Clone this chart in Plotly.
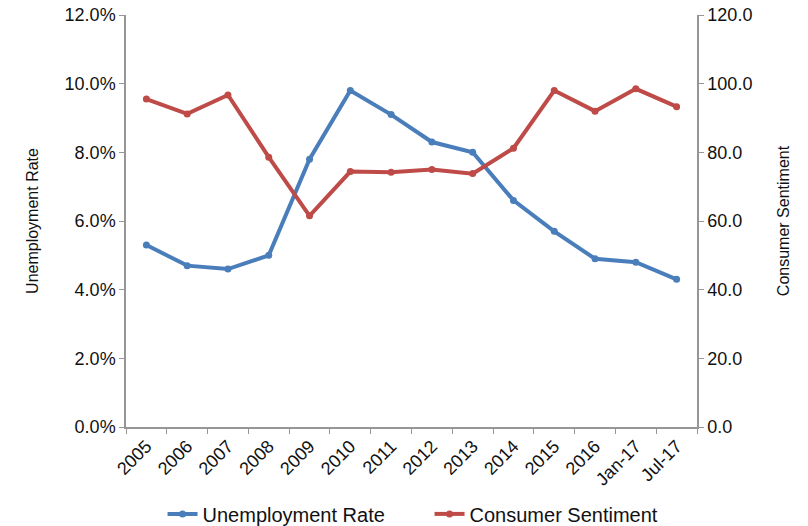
import plotly.graph_objects as go

categories = ["2005", "2006", "2007", "2008", "2009", "2010", "2011", "2012",
              "2013", "2014", "2015", "2016", "Jan-17", "Jul-17"]
unemployment = [5.3, 4.7, 4.6, 5.0, 7.8, 9.8, 9.1, 8.3, 8.0, 6.6, 5.7, 4.9, 4.8, 4.3]
sentiment = [95.5, 91.2, 96.7, 78.6, 61.5, 74.4, 74.2, 75.0, 73.8, 81.2, 98.0, 92.0, 98.5, 93.3]

BLUE = "#4A7EBB"
RED = "#BE4B48"
FONT = "Liberation Sans, Arial, sans-serif"

fig = go.Figure()
fig.add_trace(go.Scatter(x=categories, y=unemployment, name="Unemployment Rate",
                         mode="lines+markers", line=dict(color=BLUE, width=4),
                         marker=dict(size=7, color=BLUE), yaxis="y"))
fig.add_trace(go.Scatter(x=categories, y=sentiment, name="Consumer Sentiment",
                         mode="lines+markers", line=dict(color=RED, width=4),
                         marker=dict(size=7, color=RED), yaxis="y2"))

axis_common = dict(showgrid=False, zeroline=False, showline=True, linecolor="#969696",
                   linewidth=1.5, ticks="outside", ticklen=5, tickcolor="#969696",
                   automargin=False,
                   tickfont=dict(size=18, color="#111111", family=FONT))

fig.update_layout(
    width=808, height=526,
    margin=dict(l=126, r=111, t=15, b=99),
    paper_bgcolor="white", plot_bgcolor="white",
    font=dict(family=FONT, color="#111111"),
    xaxis=dict(type="category", range=[-0.5, 13.5], tickangle=-45, tickson="boundaries",
               **axis_common),
    yaxis=dict(range=[0, 12], dtick=2, tickformat=".1f", ticksuffix="%",
               title=dict(text="Unemployment Rate", font=dict(size=16, family=FONT), standoff=22),
               **axis_common),
    yaxis2=dict(range=[0, 120], dtick=20, tickformat=".1f", overlaying="y", side="right",
                title=dict(text="Consumer Sentiment", font=dict(size=16, family=FONT), standoff=26),
                **axis_common),
    legend=dict(orientation="h", x=0.064, xanchor="left", yref="container",
                y=0.023, yanchor="middle", entrywidth=222,
                font=dict(size=20, family=FONT)),
    showlegend=True,
)

fig.write_html("out.html")
